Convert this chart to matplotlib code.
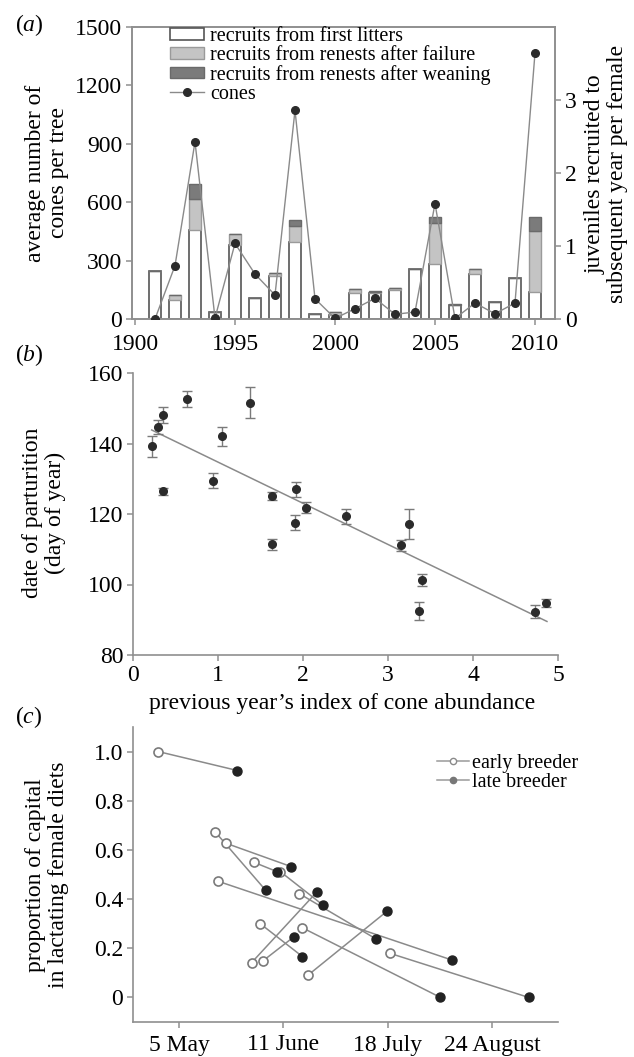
import numpy as np
import matplotlib
matplotlib.use('Agg')
import matplotlib.pyplot as plt
from matplotlib.patches import Patch
from matplotlib.lines import Line2D

plt.rcParams['font.family'] = ['Liberation Serif', 'DejaVu Serif']
plt.rcParams['mathtext.fontset'] = 'custom'
plt.rcParams['mathtext.rm'] = 'Liberation Serif'
plt.rcParams['mathtext.it'] = 'Liberation Serif:italic'

# ---------------- data ----------------
# panel (a)
years = list(range(1991, 2011))
recruits_first = [0.66, 0.26, 1.22, 0.10, 1.01, 0.29, 0.59, 1.06, 0.07, 0.06,
                  0.36, 0.35, 0.40, 0.69, 0.76, 0.19, 0.61, 0.23, 0.56, 0.37]
recruits_fail = [0.00, 0.07, 0.43, 0.00, 0.16, 0.00, 0.04, 0.22, 0.00, 0.04,
                 0.05, 0.02, 0.02, 0.00, 0.55, 0.00, 0.08, 0.00, 0.00, 0.83]
recruits_wean = [0.00, 0.00, 0.20, 0.00, 0.00, 0.00, 0.00, 0.07, 0.00, 0.00,
                 0.00, 0.02, 0.00, 0.00, 0.09, 0.01, 0.00, 0.00, 0.00, 0.20]
cones = [0, 274, 910, 5, 388, 231, 123, 1072, 104, 3,
         53, 106, 24, 36, 593, 3, 82, 27, 82, 1366]
year_ticks = [1990, 1995, 2000, 2005, 2010]
year_tick_labels = ['1900', '1995', '2000', '2005', '2010']

# panel (b)
cone_index = [0.22, 0.29, 0.35, 0.35, 0.63, 0.94, 1.05, 1.38, 1.64, 1.64,
              1.92, 1.91, 2.04, 2.50, 3.15, 3.25, 3.40, 3.36, 4.73, 4.86]
parturition = [139.2, 144.6, 148.1, 126.4, 152.6, 129.5, 142.0, 151.6, 125.1, 111.4,
               127.0, 117.5, 121.8, 119.4, 111.1, 117.1, 101.2, 92.5, 92.3, 94.8]
parturition_se = [3.0, 2.0, 2.3, 1.0, 2.3, 2.0, 2.7, 4.4, 1.2, 1.5,
                  2.1, 2.1, 1.6, 2.1, 1.6, 4.3, 1.7, 2.5, 1.9, 1.2]
fit_intercept = 146.4
fit_slope = -11.68
fit_range = [0.22, 4.87]

# panel (c)  (x = day of year)
early_day = [117.7, 137.8, 141.7, 151.7, 160.9, 139.0, 167.7, 153.8, 150.8, 154.7, 168.8, 170.7, 199.9]
early_prop = [1.000, 0.674, 0.627, 0.549, 0.512, 0.472, 0.422, 0.300, 0.142, 0.148, 0.283, 0.090, 0.179]
late_day = [145.7, 155.8, 164.8, 159.7, 175.9, 221.8, 194.7, 168.8, 173.9, 165.8, 217.7, 198.7, 249.0]
late_prop = [0.923, 0.435, 0.532, 0.512, 0.377, 0.152, 0.239, 0.166, 0.429, 0.247, 0.000, 0.350, 0.000]
date_ticks = [125, 162, 199, 236]
date_labels = ['5 May', '11 June', '18 July', '24 August']

# ---------------- figure ----------------
W, H = 634, 1057
fig = plt.figure(figsize=(W / 100, H / 100), dpi=100)


def rect(l, t, r, b):
    return [l / W, 1 - b / H, (r - l) / W, (b - t) / H]


SP = '#8f8f8f'
EDGE = '#555555'
FS = 17
LFS = 14.5


def style(ax, spines=('left', 'bottom')):
    for s in ['left', 'right', 'top', 'bottom']:
        ax.spines[s].set_color(SP)
        ax.spines[s].set_linewidth(1.2)
        if s not in spines:
            ax.spines[s].set_visible(False)
    ax.tick_params(color=SP, labelsize=FS, length=4, width=1.1, pad=3)


# ---- panel a ----
axA = fig.add_axes(rect(132, 27, 555, 319))
axAr = axA.twinx()
style(axA, ('left', 'bottom', 'right', 'top'))
style(axAr, ('left', 'bottom', 'right', 'top'))
bw = 0.62
y = np.array(years)
f1 = np.array(recruits_first)
f2 = np.array(recruits_fail)
f3 = np.array(recruits_wean)
axAr.bar(y, f1, width=bw, color='white', edgecolor=EDGE, linewidth=1.2)
axAr.bar(y, f2, bottom=f1, width=bw, color='#c4c4c4', edgecolor='#9a9a9a', linewidth=1.0)
axAr.bar(y, f3, bottom=f1 + f2, width=bw, color='#7b7b7b', edgecolor='#6a6a6a', linewidth=1.0)
axAr.set_ylim(0, 4)
axAr.set_yticks([0, 1, 2, 3])
axAr.set_yticklabels(['0', '1', '2', '3'])

axA.plot(years, cones, color='#8a8a8a', lw=1.0, marker='o', ms=5.5,
         mfc='#2b2b2b', mec='#2b2b2b', zorder=5)
axA.set_ylim(0, 1500)
axA.set_yticks([0, 300, 600, 900, 1200, 1500])
axA.set_xlim(1989.85, 2011.0)
axA.set_xticks(year_ticks)
axA.set_xticklabels(year_tick_labels)
axA.tick_params(axis='x', pad=7)
axA.set_zorder(axAr.get_zorder() + 1)
axA.patch.set_visible(False)

handles = [Patch(facecolor='white', edgecolor=EDGE, linewidth=1.2),
           Patch(facecolor='#c4c4c4', edgecolor='#9a9a9a'),
           Patch(facecolor='#7b7b7b', edgecolor='#6a6a6a'),
           Line2D([], [], color='#8a8a8a', lw=1.0, marker='o', ms=5.5,
                  mfc='#2b2b2b', mec='#2b2b2b')]
labels = ['recruits from first litters', 'recruits from renests after failure',
          'recruits from renests after weaning', 'cones']
axA.legend(handles, labels, loc='upper left',
           bbox_to_anchor=((170 - 132) / 423, (319 - 27) / 292),
           frameon=False, fontsize=LFS, borderpad=0, borderaxespad=0,
           handlelength=1.7, handleheight=0.5, handletextpad=0.3,
           labelspacing=0.0)

fig.text(15 / W, 1 - 25 / H, r'($\it{a}$)', fontsize=FS, ha='left', va='center')
fig.text(47 / W, 1 - 173 / H, 'average number of\ncones per tree', rotation=90,
         fontsize=FS, ha='center', va='center', linespacing=1.1)
fig.text(606 / W, 1 - 174 / H, 'juveniles recruited to\nsubsequent year per female',
         rotation=90, fontsize=FS, ha='center', va='center', linespacing=1.1)

# ---- panel b ----
axB = fig.add_axes(rect(133, 373, 558, 655))
style(axB)
axB.errorbar(cone_index, parturition, yerr=parturition_se, fmt='o', ms=5.5,
             mfc='#2b2b2b', mec='#2b2b2b', ecolor='#7a7a7a', elinewidth=1.0,
             capsize=3.5, capthick=1.0, zorder=3)
fx = np.array(fit_range)
axB.plot(fx, fit_intercept + fit_slope * fx, color='#8a8a8a', lw=1.1, zorder=2)
axB.set_xlim(0, 5)
axB.set_ylim(80, 160)
axB.set_xticks([0, 1, 2, 3, 4, 5])
axB.set_yticks([80, 100, 120, 140, 160])
fig.text(15 / W, 1 - 355 / H, r'($\it{b}$)', fontsize=FS, ha='left', va='center')
fig.text(44 / W, 1 - 513 / H, 'date of parturition\n(day of year)', rotation=90,
         fontsize=FS, ha='center', va='center', linespacing=1.1)
fig.text(342 / W, 1 - 703 / H, 'previous year\u2019s index of cone abundance',
         fontsize=FS, ha='center', va='center')

# ---- panel c ----
axC = fig.add_axes(rect(133, 727, 558, 1022))
style(axC)
for x0, y0, x1, y1 in zip(early_day, early_prop, late_day, late_prop):
    axC.plot([x0, x1], [y0, y1], color='#8a8a8a', lw=1.1, zorder=2)
axC.plot(early_day, early_prop, 'o', ls='none', ms=6.5, mfc='white', mec='#7a7a7a',
         mew=1.2, zorder=4)
axC.plot(late_day, late_prop, 'o', ls='none', ms=6.5, mfc='#222222', mec='#222222',
         zorder=4)
axC.set_xlim(108.7, 259.4)
axC.set_ylim(-0.1, 1.1)
axC.set_xticks(date_ticks)
axC.set_xticklabels(date_labels)
axC.tick_params(axis='x', pad=5)
axC.set_yticks([0, 0.2, 0.4, 0.6, 0.8, 1.0])
axC.set_yticklabels(['0', '0.2', '0.4', '0.6', '0.8', '1.0'])
hC = [Line2D([], [], color='#9a9a9a', lw=1.1, marker='o', ms=4.5, mfc='white', mec='#8a8a8a'),
      Line2D([], [], color='#9a9a9a', lw=1.1, marker='o', ms=4.5, mfc='#777777', mec='#777777')]
axC.legend(hC, ['early breeder', 'late breeder'], loc='upper left',
           bbox_to_anchor=((437 - 133) / 425, (1022 - 754) / 295),
           frameon=False, fontsize=LFS, borderpad=0, borderaxespad=0,
           handlelength=1.6, handletextpad=0.15, labelspacing=0.0)
fig.text(15 / W, 1 - 717 / H, r'($\it{c}$)', fontsize=FS, ha='left', va='center')
fig.text(47 / W, 1 - 875 / H, 'proportion of capital\nin lactating female diets',
         rotation=90, fontsize=FS, ha='center', va='center', linespacing=1.1)

fig.savefig('out.png', dpi=100)
